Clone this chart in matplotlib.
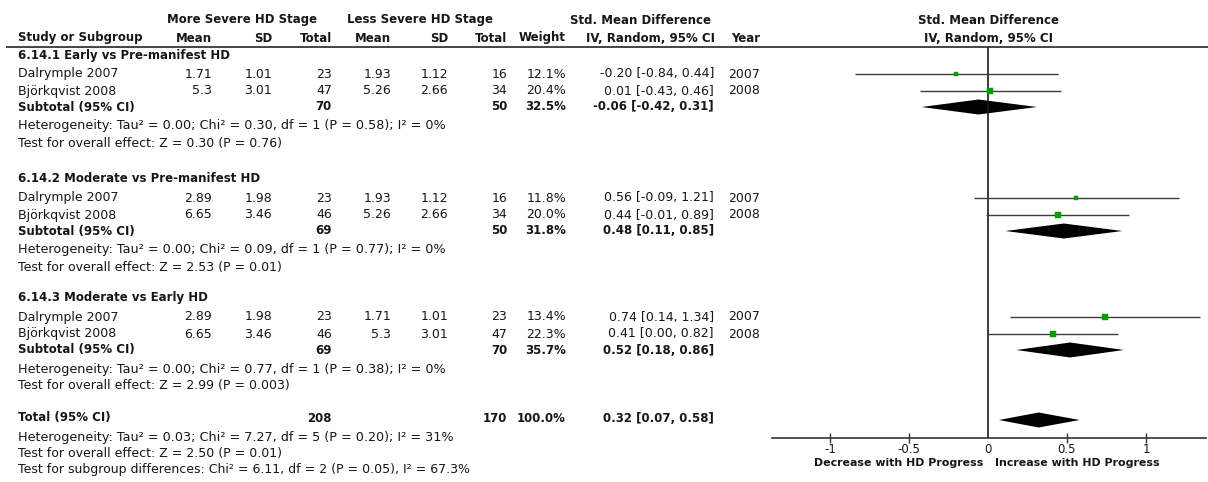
import matplotlib
matplotlib.use("Agg")
import matplotlib.pyplot as plt

plt.rcParams['font.family'] = ['DejaVu Sans']
plt.rcParams['axes.unicode_minus'] = False

# ---- data -----------------------------------------------------------------
subgroups = ["6.14.1 Early vs Pre-manifest HD",
             "6.14.2 Moderate vs Pre-manifest HD",
             "6.14.3 Moderate vs Early HD"]
study_names = [["Dalrymple 2007", "Björkqvist 2008"]] * 3
more_mean = [[1.71, 5.3], [2.89, 6.65], [2.89, 6.65]]
more_sd = [[1.01, 3.01], [1.98, 3.46], [1.98, 3.46]]
more_n = [[23, 47], [23, 46], [23, 46]]
less_mean = [[1.93, 5.26], [1.93, 5.26], [1.71, 5.3]]
less_sd = [[1.12, 2.66], [1.12, 2.66], [1.01, 3.01]]
less_n = [[16, 34], [16, 34], [23, 47]]
weight = [[12.1, 20.4], [11.8, 20.0], [13.4, 22.3]]
smd = [[-0.20, 0.01], [0.56, 0.44], [0.74, 0.41]]
ci_lo = [[-0.84, -0.43], [-0.09, -0.01], [0.14, 0.00]]
ci_hi = [[0.44, 0.46], [1.21, 0.89], [1.34, 0.82]]
years = [[2007, 2008]] * 3

sub_more_n = [70, 69, 69]
sub_less_n = [50, 50, 70]
sub_weight = [32.5, 31.8, 35.7]
sub_smd = [-0.06, 0.48, 0.52]
sub_lo = [-0.42, 0.11, 0.18]
sub_hi = [0.31, 0.85, 0.86]
sub_heterogeneity = [
    "Heterogeneity: Tau² = 0.00; Chi² = 0.30, df = 1 (P = 0.58); I² = 0%",
    "Heterogeneity: Tau² = 0.00; Chi² = 0.09, df = 1 (P = 0.77); I² = 0%",
    "Heterogeneity: Tau² = 0.00; Chi² = 0.77, df = 1 (P = 0.38); I² = 0%",
]
sub_overall = [
    "Test for overall effect: Z = 0.30 (P = 0.76)",
    "Test for overall effect: Z = 2.53 (P = 0.01)",
    "Test for overall effect: Z = 2.99 (P = 0.003)",
]

total_more_n = 208
total_less_n = 170
total_weight = 100.0
total_smd = 0.32
total_lo = 0.07
total_hi = 0.58
total_notes = [
    "Heterogeneity: Tau² = 0.03; Chi² = 7.27, df = 5 (P = 0.20); I² = 31%",
    "Test for overall effect: Z = 2.50 (P = 0.01)",
    "Test for subgroup differences: Chi² = 6.11, df = 2 (P = 0.05), I² = 67.3%",
]

tick_values = [-1, -0.5, 0.5, 1]
tick_labels = ["-1", "-0.5", "0.5", "1"]
left_label = "Decrease with HD Progress"
right_label = "Increase with HD Progress"

# ---- layout ---------------------------------------------------------------
W, H = 1208, 482
TXT = "#161616"
LINE = "#3c3c3c"
GREEN = "#00a000"
FS = 9.0
FSB = 8.5

group_top = [55, 179, 298]
total_y = 418
col = dict(name=18, m_mean=212, m_sd=272, m_n=332, l_mean=391, l_sd=448,
           l_n=507, w=566, ci=714, yr=760)

fig = plt.figure(figsize=(W / 100, H / 100), dpi=100)
tab = fig.add_axes([0, 0, 1, 1])
tab.set_xlim(0, W)
tab.set_ylim(H, 0)
tab.axis("off")


def put(x, y, s, ha="right", bold=False, size=None):
    tab.text(x, y, s, ha=ha, va="center", color=TXT,
             fontsize=size if size else (FSB if bold else FS),
             fontweight="bold" if bold else "normal")


# column headers
put(242, 20, "More Severe HD Stage", ha="center", bold=True)
put(420, 20, "Less Severe HD Stage", ha="center", bold=True)
put(640, 20, "Std. Mean Difference", ha="center", bold=True)
put(988, 20, "Std. Mean Difference", ha="center", bold=True)
put(col["name"], 38, "Study or Subgroup", ha="left", bold=True)
for key, lab in [("m_mean", "Mean"), ("m_sd", "SD"), ("m_n", "Total"),
                 ("l_mean", "Mean"), ("l_sd", "SD"), ("l_n", "Total"),
                 ("w", "Weight"), ("yr", "Year")]:
    put(col[key], 38, lab, bold=True)
put(650, 38, "IV, Random, 95% CI", ha="center", bold=True)
put(988, 38, "IV, Random, 95% CI", ha="center", bold=True)
tab.plot([6, W], [47, 47], color="#444444", lw=1.4, solid_capstyle="butt")


def ci_text(e, lo, hi):
    return f"{e:.2f} [{lo:.2f}, {hi:.2f}]"


study_rows = []
sub_rows = []
for g, top in enumerate(group_top):
    put(col["name"], top, subgroups[g], ha="left", bold=True)
    ys = [top + 19, top + 36]
    study_rows.append(ys)
    for i, y in enumerate(ys):
        put(col["name"], y, study_names[g][i], ha="left")
        put(col["m_mean"], y, f"{more_mean[g][i]:g}")
        put(col["m_sd"], y, f"{more_sd[g][i]:g}")
        put(col["m_n"], y, f"{more_n[g][i]}")
        put(col["l_mean"], y, f"{less_mean[g][i]:g}")
        put(col["l_sd"], y, f"{less_sd[g][i]:g}")
        put(col["l_n"], y, f"{less_n[g][i]}")
        put(col["w"], y, f"{weight[g][i]:.1f}%")
        put(col["ci"], y, ci_text(smd[g][i], ci_lo[g][i], ci_hi[g][i]))
        put(col["yr"], y, f"{years[g][i]}")
    ys_sub = top + 52
    sub_rows.append(ys_sub)
    put(col["name"], ys_sub, "Subtotal (95% CI)", ha="left", bold=True)
    put(col["m_n"], ys_sub, f"{sub_more_n[g]}", bold=True)
    put(col["l_n"], ys_sub, f"{sub_less_n[g]}", bold=True)
    put(col["w"], ys_sub, f"{sub_weight[g]:.1f}%", bold=True)
    put(col["ci"], ys_sub, ci_text(sub_smd[g], sub_lo[g], sub_hi[g]), bold=True)
    put(col["name"], top + 71, sub_heterogeneity[g], ha="left", size=9.2)
    put(col["name"], top + 88, sub_overall[g], ha="left")

put(col["name"], total_y, "Total (95% CI)", ha="left", bold=True)
put(col["m_n"], total_y, f"{total_more_n}", bold=True)
put(col["l_n"], total_y, f"{total_less_n}", bold=True)
put(col["w"], total_y, f"{total_weight:.1f}%", bold=True)
put(col["ci"], total_y, ci_text(total_smd, total_lo, total_hi), bold=True)
for k, note in enumerate(total_notes):
    put(col["name"], [437, 453, 470][k], note, ha="left",
        size=9.2 if k == 0 else None)

# ---- forest panel ---------------------------------------------------------
ax_left, ax_right, ax_top, ax_bot = 772, 1206, 47, 438
fp = fig.add_axes([ax_left / W, (H - ax_bot) / H,
                   (ax_right - ax_left) / W, (ax_bot - ax_top) / H])
fp.set_xlim((ax_left - 988) / 158, (ax_right - 988) / 158)
fp.set_ylim(ax_bot, ax_top)
fp.patch.set_alpha(0)
for side in ("top", "left", "right"):
    fp.spines[side].set_visible(False)
fp.spines["bottom"].set_color("#333333")
fp.spines["bottom"].set_linewidth(1.2)
fp.set_yticks([])
fp.set_xticks(tick_values, tick_labels)
fp.set_xticks([0], ["0"], minor=True)
fp.tick_params(axis="x", which="major", direction="inout", length=6.5,
               width=1.0, color="#333333", pad=0.5, labelsize=8.5,
               labelcolor=TXT)
fp.tick_params(axis="x", which="minor", length=0, pad=3.7, labelsize=8.5,
               labelcolor=TXT)
fp.axvline(0, color="#1a1a1a", lw=1.2)


def diamond(e, lo, hi, y, half=7.5):
    fp.fill([lo, e, hi, e], [y, y - half, y, y + half], color="black", lw=0)


for g in range(3):
    for i, y in enumerate(study_rows[g]):
        fp.plot([ci_lo[g][i], ci_hi[g][i]], [y, y], color=LINE, lw=1.0,
                solid_capstyle="butt")
        side_px = 1.4 * weight[g][i] ** 0.5
        fp.scatter([smd[g][i]], [y], marker="s", s=(side_px * 0.72) ** 2,
                   color=GREEN, edgecolors=GREEN, lw=0.3, zorder=3)
    diamond(sub_smd[g], sub_lo[g], sub_hi[g], sub_rows[g])
diamond(total_smd, total_lo, total_hi, 420)

tab.text(983, 463, left_label, ha="right", va="center", color=TXT,
         fontsize=7.9, fontweight="bold")
tab.text(995, 463, right_label, ha="left", va="center", color=TXT,
         fontsize=7.9, fontweight="bold")

fig.savefig("out.png", dpi=100)
